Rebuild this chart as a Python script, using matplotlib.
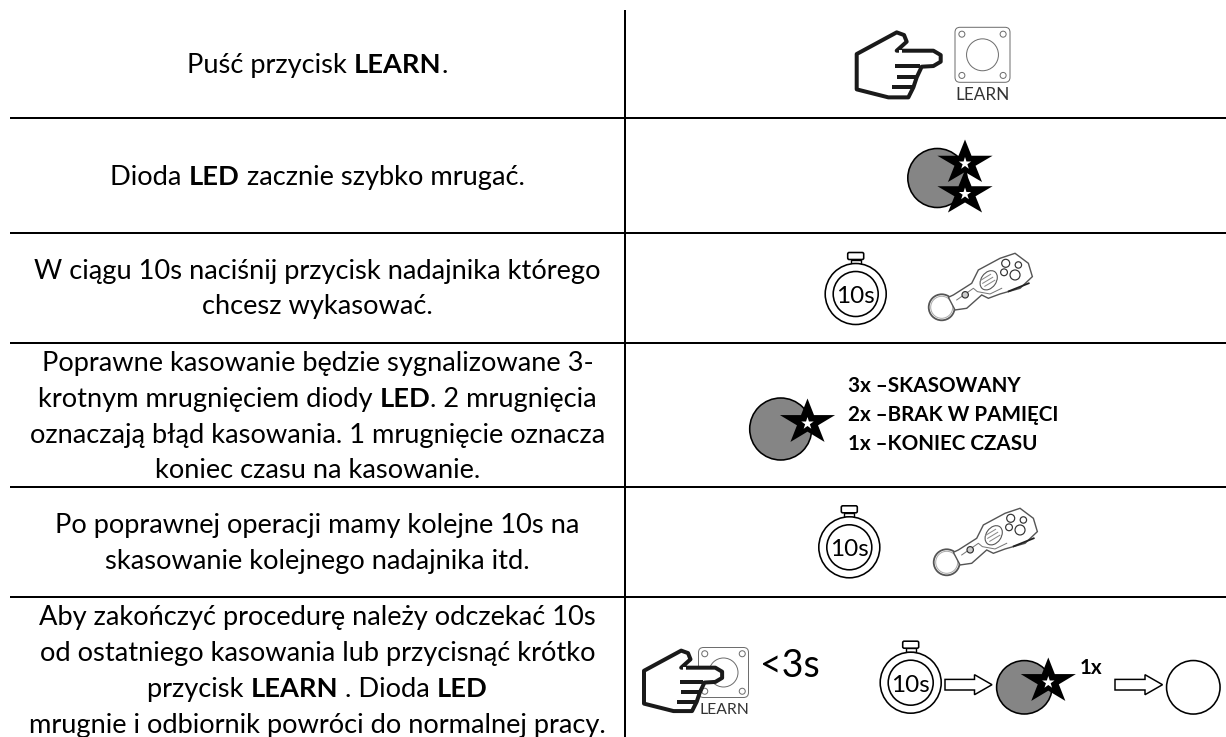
"""Table of LEARN button steps with small pictograms, drawn in pixel coordinates."""

import numpy as np
import matplotlib

matplotlib.use("Agg")
import matplotlib.pyplot as plt
from matplotlib.patches import Circle, Ellipse, FancyBboxPatch, Polygon, Rectangle

WIDTH, HEIGHT = 1226, 737
FONT = "Lato"
INK = "black"
LED_GRAY = "#858585"

# text of the left column, **x** marks bold
ROW_1 = ["Puść przycisk **LEARN**."]
ROW_2 = ["Dioda **LED** zacznie szybko mrugać."]
ROW_3 = ["W ciągu 10s naciśnij przycisk nadajnika którego", "chcesz wykasować."]
ROW_4 = [
    "Poprawne kasowanie będzie sygnalizowane 3-",
    "krotnym mrugnięciem diody **LED**. 2 mrugnięcia",
    "oznaczają błąd kasowania. 1 mrugnięcie oznacza",
    "koniec czasu na kasowanie.",
]
ROW_5 = ["Po poprawnej operacji mamy kolejne 10s na", "skasowanie kolejnego nadajnika itd."]
ROW_6 = [
    "Aby zakończyć procedurę należy odczekać 10s",
    "od ostatniego kasowania lub przycisnąć krótko",
    "przycisk **LEARN** . Dioda **LED**",
    "mrugnie i odbiornik powróci do normalnej pracy.",
]
BLINK_LABELS = ["3x –SKASOWANY", "2x –BRAK W PAMIĘCI", "1x –KONIEC CZASU"]

ROW_LINES = [117.7, 232.7, 342.9, 486.7, 596.7]
BASELINES = [
    [72.7],
    [185],
    [279.3, 314.3],
    [370.7, 406.7, 443, 477.5],
    [533.3, 569.3],
    [625, 661, 697, 733],
]

fig = plt.figure(figsize=(WIDTH / 100, HEIGHT / 100), dpi=100)
ax = fig.add_axes([0, 0, 1, 1])
ax.set_xlim(0, WIDTH)
ax.set_ylim(HEIGHT, 0)
ax.axis("off")
renderer = fig.canvas.get_renderer()


def px(value):
    return value * 72 / 100


def text_width(string, size, weight):
    dot = ax.text(0, 0, ".", fontsize=size, fontweight=weight, family=FONT)
    both = ax.text(0, 0, string + ".", fontsize=size, fontweight=weight, family=FONT)
    width = both.get_window_extent(renderer).width - dot.get_window_extent(renderer).width
    dot.remove()
    both.remove()
    return width


def rich_line(line, cx, baseline, size):
    parts = line.split("**")
    runs = [(part, "bold" if i % 2 else "normal") for i, part in enumerate(parts) if part]
    widths = [text_width(run, size, weight) for run, weight in runs]
    x = cx - sum(widths) / 2
    for (run, weight), width in zip(runs, widths):
        ax.text(x, baseline, run, fontsize=size, fontweight=weight, family=FONT,
                color=INK, ha="left", va="baseline")
        x += width


def star(cx, cy, rx, ry, color, zorder):
    angles = -np.pi / 2 + np.arange(10) * np.pi / 5
    radius = np.where(np.arange(10) % 2 == 0, 1.0, 0.382)
    points = np.column_stack([cx + rx * radius * np.cos(angles), cy + ry * radius * np.sin(angles)])
    ax.add_patch(Polygon(points, closed=True, facecolor=color, edgecolor="none", zorder=zorder))


def led(cx, cy, rx, ry):
    ax.add_patch(Ellipse((cx, cy), 2 * rx, 2 * ry, facecolor=LED_GRAY, edgecolor="black",
                         linewidth=px(1.6), zorder=3))


def led_star(cx, cy):
    star(cx, cy, 29, 24, "black", 4)
    star(cx, cy + 1, 6.5, 6.5, "white", 5)


def stopwatch(cx, cy):
    ax.add_patch(Circle((cx, cy), 30.5, facecolor="white", edgecolor="black", linewidth=px(1.6), zorder=3))
    ax.add_patch(Circle((cx, cy), 22.5, facecolor="white", edgecolor="black", linewidth=px(1.6), zorder=3))
    ax.add_patch(FancyBboxPatch((cx - 8, cy - 41.5), 16, 7, boxstyle="round,pad=0,rounding_size=1.5",
                                facecolor="white", edgecolor="black", linewidth=px(1.6), zorder=3))
    ax.add_patch(Rectangle((cx - 5, cy - 34.5), 10, 4, facecolor="white", edgecolor="black",
                           linewidth=px(1.4), zorder=2))
    ax.text(cx, cy + 9, "10s", fontsize=17.5, family=FONT, color=INK, ha="center", va="baseline", zorder=6)


def hand(x0, y0, scale):
    def pts(items):
        arr = np.array(items, dtype=float)
        return x0 + (arr[:, 0] - 470) / 3 * scale, y0 + (arr[:, 1] - 95) / 3 * scale

    outline = [(470, 162), (590, 97), (612, 105), (620, 125), (590, 152), (700, 152), (722, 165),
               (722, 185), (700, 198), (665, 200), (650, 232), (640, 262), (625, 292), (565, 292), (470, 268)]
    xs, ys = pts(outline)
    ax.add_patch(Polygon(np.column_stack([xs, ys]), closed=True, facecolor="white", edgecolor="#1a1a1a",
                         linewidth=px(4), joinstyle="round", zorder=7))
    for seg in ([(585, 198), (660, 198)], [(590, 232), (650, 232)], [(575, 262), (640, 262)]):
        xs, ys = pts(seg)
        ax.plot(xs, ys, color="#1a1a1a", linewidth=px(4), solid_capstyle="butt", zorder=8)
    # cover the inside of the palm side of the finger
    xs, ys = pts([(600, 152), (600, 198)])
    ax.plot(xs, ys, color="white", linewidth=px(3), zorder=7.5)


def button(left, top, side, label_size, label_x, label_base):
    gray = "#6e6e6e"
    ax.add_patch(FancyBboxPatch((left, top), side, side, boxstyle="round,pad=0,rounding_size=5",
                                facecolor="white", edgecolor=gray, linewidth=px(1), zorder=3))
    inset = side * 0.125
    for dx in (inset, side - inset):
        for dy in (inset, side - inset):
            ax.add_patch(Circle((left + dx, top + dy), 3, facecolor="white", edgecolor=gray,
                                linewidth=px(1), zorder=4))
    ax.add_patch(Circle((left + side / 2, top + side / 2), side * 0.29, facecolor="white",
                        edgecolor=gray, linewidth=px(1), zorder=4))
    ax.text(label_x, label_base, "LEARN", fontsize=label_size, family=FONT, color="#333333",
            ha="center", va="baseline", zorder=9)


def remote(rx, ry):
    gray = "#555555"
    body = [(745, 232), (760, 225), (815, 190), (835, 150), (900, 115), (945, 100), (985, 130), (997, 170),
            (960, 205), (900, 222), (865, 235), (845, 225), (800, 265), (765, 270)]
    arr = np.array(body, dtype=float)
    points = np.column_stack([rx + (arr[:, 0] - 725) / 3, ry + (arr[:, 1] - 262) / 3])
    ax.add_patch(Ellipse((rx, ry), 26, 26, facecolor="none", edgecolor=gray, linewidth=px(1.8), zorder=3))
    ax.add_patch(Ellipse((rx, ry), 22, 22, facecolor="none", edgecolor="#aaaaaa", linewidth=px(1), zorder=3))
    ax.add_patch(Polygon(points, closed=True, facecolor="white", edgecolor=gray, linewidth=px(1.4), zorder=4))
    fold = np.array([(770, 240), (820, 205), (832, 215), (870, 222), (905, 205)], dtype=float)
    ax.plot(rx + (fold[:, 0] - 725) / 3, ry + (fold[:, 1] - 262) / 3, color="#777777", linewidth=px(1), zorder=5)
    ax.add_patch(Ellipse((rx + 47, ry - 27), 21, 15, angle=-55, facecolor="white", edgecolor=gray,
                         linewidth=px(1.1), zorder=5))
    for shift in (-3.5, 0, 3.5):
        x1 = rx + 47 - 6 + shift * 0.6
        y1 = ry - 27 + 3 + shift * 0.85
        ax.plot([x1, x1 + 10], [y1, y1 - 6], color="#888888", linewidth=px(1), zorder=6)
    for bx, by, r in ((917, 130, 4), (955, 135, 3.2), (912, 157, 3.4), (945, 165, 5)):
        ax.add_patch(Circle((rx + (bx - 725) / 3, ry + (by - 262) / 3), r, facecolor="white",
                            edgecolor="#333333", linewidth=px(1.2), zorder=6))
    ax.add_patch(Circle((rx + 23.5, ry - 12.5), 3.2, facecolor="#cccccc", edgecolor="#333333",
                        linewidth=px(1.2), zorder=6))
    ax.plot([rx + 67, rx + 87], [ry - 16, ry - 24], color="#222222", linewidth=px(1.8), zorder=6)


def arrow(left, right, cy):
    neck = right - 17.5
    points = [(left, cy - 5.3), (neck, cy - 5.3), (neck, cy - 10), (right, cy), (neck, cy + 10),
              (neck, cy + 5.3), (left, cy + 5.3)]
    ax.add_patch(Polygon(points, closed=True, facecolor="white", edgecolor="black", linewidth=px(1.5), zorder=3))


# table rules
for y in ROW_LINES:
    ax.plot([10, WIDTH], [y, y], color="black", linewidth=px(2), solid_capstyle="butt", zorder=1)
ax.plot([625, 625], [10, HEIGHT], color="black", linewidth=px(2), solid_capstyle="butt", zorder=1)

# left column
for lines, bases in zip([ROW_1, ROW_2, ROW_3, ROW_4, ROW_5, ROW_6], BASELINES):
    for line, base in zip(lines, bases):
        rich_line(line, 317.5, base, 19.6)

# row 1
hand(856.7, 31.7, 1.0)
button(955, 27.3, 55, 12.3, 982.5, 100)

# row 2
led(937.3, 178, 29.5, 29.5)
for star_y in (163, 193.5):
    star(965, star_y, 29, 23.5, "black", 4)
    star(965, star_y + 0.5, 6.5, 6.5, "white", 5)

# row 3
stopwatch(855.7, 294)
remote(941.7, 307.3)

# row 4
led(780.7, 429, 31, 31)
led_star(807.5, 422.5)
for label, base in zip(BLINK_LABELS, [392, 421, 450]):
    ax.text(848, base, label, fontsize=14.9, fontweight="bold", family=FONT, color=INK,
            ha="left", va="baseline")

# row 5
stopwatch(849.3, 547.3)
remote(946.7, 562.3)

# row 6
button(698.5, 647.5, 50, 11.3, 724.5, 714)
hand(644, 650, 0.93)
ax.text(760, 677, "<3s", fontsize=27, family=FONT, color=INK, ha="left", va="baseline")
stopwatch(910.7, 682.7)
arrow(945, 992, 684.7)
led(1024.3, 687.3, 27.7, 26.7)
led_star(1048.3, 681.5)
ax.text(1080, 674.5, "1x", fontsize=14.9, fontweight="bold", family=FONT, color=INK, ha="left", va="baseline")
arrow(1115, 1162.5, 684.7)
ax.add_patch(Ellipse((1193.3, 687.3), 53.5, 53.5, facecolor="white", edgecolor="black",
                     linewidth=px(1.6), zorder=3))

fig.savefig("out.png", dpi=100)
